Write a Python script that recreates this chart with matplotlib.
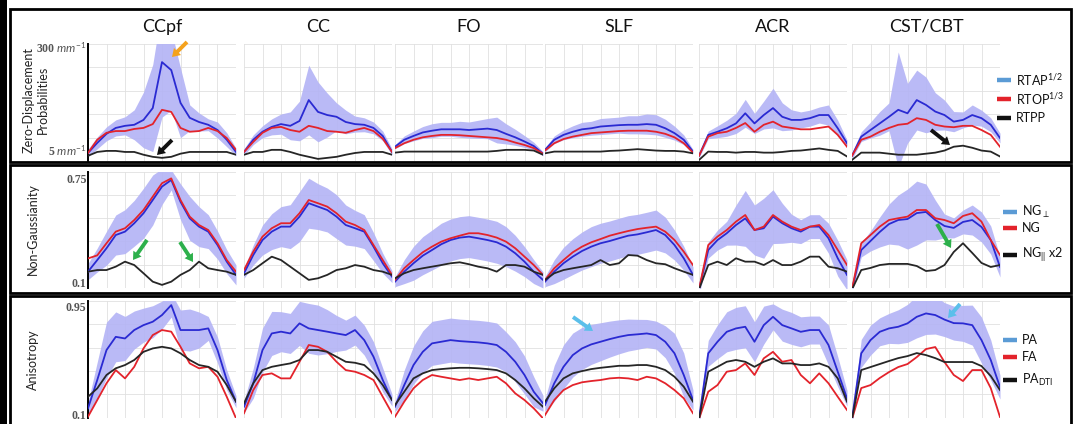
import numpy as np
import matplotlib
matplotlib.use("Agg")
import matplotlib.pyplot as plt
from matplotlib.patches import Rectangle, FancyArrowPatch
from matplotlib.lines import Line2D

plt.rcParams['font.family'] = ['Lato', 'DejaVu Sans']
plt.rcParams['mathtext.fontset'] = 'custom'
plt.rcParams['mathtext.rm'] = 'Lato'
plt.rcParams['mathtext.it'] = 'Lato:italic'

tracts = ["CCpf", "CC", "FO", "SLF", "ACR", "CST/CBT"]
pos = np.linspace(0, 1, 17)   # position along the tract

# --- zero-displacement probabilities (mm^-1) ---
zdp_rtap = [
    [-4, 25, 51, 68, 74, 77, 91, 125, 257, 234, 140, 97, 85, 77, 62, 34, -1],
    [-1, 34, 57, 71, 79, 74, 88, 148, 114, 105, 100, 85, 79, 77, 68, 45, -1],
    [14, 34, 45, 55, 60, 64, 64, 64, 62, 64, 66, 62, 51, 41, 29, 16, -6],
    [5, 34, 48, 57, 64, 67, 72, 74, 76, 77, 77, 79, 77, 67, 53, 34, 0],
    [-12, 48, 57, 67, 81, 110, 81, 105, 125, 100, 91, 91, 96, 105, 105, 67, 24],
    [-12, 43, 62, 81, 100, 120, 110, 148, 134, 115, 105, 86, 91, 105, 96, 77, 39],
]
zdp_rtop = [
    [-4, 34, 54, 59, 59, 65, 68, 79, 120, 114, 68, 57, 59, 68, 59, 39, 5],
    [-1, 28, 54, 68, 71, 62, 57, 74, 68, 59, 57, 54, 62, 68, 59, 37, -1],
    [10, 24, 34, 41, 45, 48, 48, 47, 45, 43, 41, 39, 34, 26, 19, 10, -6],
    [3, 24, 36, 43, 48, 53, 55, 57, 59, 60, 60, 60, 57, 51, 41, 24, -3],
    [-12, 43, 53, 57, 68, 82, 57, 77, 86, 72, 68, 64, 64, 68, 72, 48, 14],
    [-12, 34, 43, 57, 68, 77, 80, 96, 91, 77, 72, 70, 74, 74, 62, 48, 14],
]
zdp_rtpp = [
    [-12, -1, 2, 2, -1, -1, -9, -15, -18, -15, -6, -1, -1, -1, -1, -1, -9],
    [-9, -1, -1, 5, 5, -1, -9, -15, -21, -18, -15, -9, -4, -1, -1, -1, -9],
    [-3, 0, 0, 0, 0, 0, 0, 0, 0, 0, 0, 2, 5, 5, 5, 3, -9],
    [-5, 0, 0, 0, 0, 0, 0, 2, 3, 5, 7, 5, 3, 2, 2, 0, -5],
    [-24, 0, -1, -1, -3, -1, -1, -3, -3, -1, 2, 3, 6, 9, 5, 2, -14],
    [-24, -3, -3, -3, -6, -9, -9, -9, -6, -3, 3, 14, 17, 11, 3, 0, -14],
]
zdp_err = [
    [11, 17, 20, 23, 26, 43, 80, 125, 158, 115, 100, 37, 26, 17, 23, 20, 11],
    [9, 14, 17, 23, 29, 40, 57, 100, 86, 63, 40, 34, 23, 20, 17, 14, 9],
    [6, 11, 14, 17, 20, 20, 20, 23, 23, 26, 29, 37, 29, 23, 17, 11, 6],
    [6, 11, 14, 17, 20, 20, 23, 23, 23, 26, 26, 29, 29, 26, 20, 14, 6],
    [6, 11, 17, 23, 29, 40, 29, 40, 57, 40, 29, 23, 23, 23, 29, 23, 9],
    [9, 14, 23, 34, 40, 166, 86, 86, 80, 54, 43, 29, 23, 29, 23, 20, 14],
]

# --- non-gaussianity ---
ng_perp = [
    [0.170, 0.242, 0.315, 0.397, 0.418, 0.470, 0.532, 0.614, 0.697, 0.738, 0.603, 0.500, 0.449, 0.418, 0.335, 0.232, 0.150],
    [0.160, 0.273, 0.366, 0.418, 0.449, 0.449, 0.511, 0.594, 0.573, 0.552, 0.511, 0.459, 0.439, 0.418, 0.325, 0.222, 0.139],
    [0.108, 0.170, 0.222, 0.269, 0.304, 0.340, 0.366, 0.381, 0.387, 0.377, 0.366, 0.352, 0.325, 0.284, 0.232, 0.170, 0.119],
    [0.108, 0.170, 0.222, 0.263, 0.298, 0.325, 0.346, 0.360, 0.377, 0.393, 0.401, 0.414, 0.428, 0.397, 0.335, 0.253, 0.150],
    [0.06, 0.304, 0.366, 0.408, 0.459, 0.500, 0.428, 0.439, 0.511, 0.470, 0.439, 0.418, 0.449, 0.449, 0.377, 0.253, 0.150],
    [0.06, 0.304, 0.360, 0.416, 0.465, 0.490, 0.496, 0.533, 0.540, 0.490, 0.453, 0.441, 0.478, 0.490, 0.447, 0.366, 0.199],
]
ng_all = [
    [0.252, 0.271, 0.346, 0.418, 0.439, 0.490, 0.552, 0.635, 0.718, 0.748, 0.614, 0.511, 0.459, 0.428, 0.346, 0.242, 0.170],
    [0.180, 0.294, 0.387, 0.439, 0.470, 0.470, 0.532, 0.614, 0.594, 0.573, 0.532, 0.480, 0.459, 0.428, 0.335, 0.242, 0.150],
    [0.119, 0.191, 0.242, 0.290, 0.325, 0.356, 0.377, 0.393, 0.408, 0.408, 0.397, 0.381, 0.356, 0.315, 0.263, 0.211, 0.150],
    [0.119, 0.191, 0.242, 0.290, 0.325, 0.352, 0.372, 0.393, 0.408, 0.422, 0.434, 0.442, 0.449, 0.418, 0.366, 0.294, 0.211],
    [0.06, 0.335, 0.387, 0.428, 0.480, 0.521, 0.428, 0.449, 0.521, 0.480, 0.449, 0.428, 0.449, 0.459, 0.397, 0.304, 0.211],
    [0.06, 0.346, 0.397, 0.449, 0.490, 0.501, 0.511, 0.552, 0.552, 0.501, 0.490, 0.470, 0.515, 0.532, 0.480, 0.366, 0.273],
]
ng_par = [
    [0.170, 0.180, 0.180, 0.201, 0.232, 0.211, 0.160, 0.108, 0.088, 0.108, 0.150, 0.180, 0.232, 0.191, 0.180, 0.170, 0.150],
    [0.150, 0.180, 0.222, 0.263, 0.242, 0.201, 0.160, 0.119, 0.129, 0.150, 0.180, 0.191, 0.211, 0.201, 0.180, 0.170, 0.150],
    [0.129, 0.160, 0.180, 0.191, 0.201, 0.211, 0.222, 0.228, 0.216, 0.201, 0.191, 0.170, 0.211, 0.211, 0.201, 0.170, 0.150],
    [0.119, 0.160, 0.180, 0.191, 0.201, 0.211, 0.242, 0.211, 0.222, 0.273, 0.269, 0.242, 0.222, 0.216, 0.191, 0.170, 0.150],
    [0.06, 0.211, 0.232, 0.211, 0.253, 0.232, 0.232, 0.211, 0.242, 0.211, 0.211, 0.232, 0.263, 0.263, 0.201, 0.191, 0.170],
    [0.06, 0.180, 0.193, 0.211, 0.218, 0.218, 0.218, 0.205, 0.174, 0.180, 0.211, 0.292, 0.346, 0.286, 0.224, 0.199, 0.211],
]
ng_err = [
    [0.050, 0.074, 0.105, 0.124, 0.136, 0.142, 0.155, 0.155, 0.111, 0.062, 0.111, 0.136, 0.124, 0.105, 0.087, 0.074, 0.062],
    [0.031, 0.062, 0.093, 0.111, 0.124, 0.136, 0.155, 0.155, 0.142, 0.136, 0.136, 0.124, 0.111, 0.105, 0.087, 0.062, 0.037],
    [0.031, 0.074, 0.105, 0.118, 0.124, 0.130, 0.130, 0.130, 0.130, 0.130, 0.130, 0.130, 0.124, 0.111, 0.093, 0.074, 0.050],
    [0.031, 0.074, 0.099, 0.111, 0.118, 0.124, 0.124, 0.124, 0.124, 0.124, 0.124, 0.124, 0.124, 0.111, 0.093, 0.074, 0.050],
    [0.031, 0.050, 0.062, 0.074, 0.124, 0.173, 0.155, 0.186, 0.167, 0.124, 0.087, 0.074, 0.074, 0.074, 0.093, 0.111, 0.093],
    [0.019, 0.043, 0.062, 0.093, 0.124, 0.155, 0.186, 0.198, 0.173, 0.124, 0.074, 0.062, 0.074, 0.093, 0.093, 0.087, 0.062],
]

# --- anisotropy ---
pa = [
    [0.145, 0.370, 0.608, 0.713, 0.700, 0.767, 0.806, 0.833, 0.886, 0.965, 0.767, 0.767, 0.767, 0.780, 0.608, 0.370, 0.198],
    [0.158, 0.344, 0.608, 0.740, 0.754, 0.740, 0.820, 0.780, 0.767, 0.754, 0.740, 0.727, 0.767, 0.687, 0.555, 0.370, 0.211],
    [0.158, 0.330, 0.489, 0.594, 0.661, 0.674, 0.687, 0.679, 0.674, 0.669, 0.661, 0.648, 0.594, 0.515, 0.410, 0.277, 0.185],
    [0.171, 0.344, 0.475, 0.568, 0.621, 0.653, 0.674, 0.695, 0.713, 0.727, 0.733, 0.740, 0.727, 0.674, 0.582, 0.410, 0.211],
    [0.06, 0.582, 0.674, 0.753, 0.780, 0.793, 0.674, 0.806, 0.872, 0.806, 0.780, 0.753, 0.767, 0.767, 0.648, 0.436, 0.225],
    [0.06, 0.582, 0.687, 0.753, 0.780, 0.793, 0.820, 0.872, 0.899, 0.886, 0.850, 0.822, 0.820, 0.806, 0.687, 0.529, 0.314],
]
fa = [
    [0.079, 0.211, 0.344, 0.449, 0.383, 0.475, 0.621, 0.727, 0.767, 0.754, 0.634, 0.502, 0.463, 0.475, 0.396, 0.237, 0.066],
    [0.106, 0.290, 0.410, 0.423, 0.383, 0.383, 0.515, 0.648, 0.634, 0.594, 0.515, 0.449, 0.436, 0.410, 0.370, 0.237, 0.106],
    [0.079, 0.198, 0.304, 0.370, 0.410, 0.396, 0.383, 0.370, 0.383, 0.370, 0.383, 0.396, 0.344, 0.264, 0.211, 0.145, 0.066],
    [0.092, 0.211, 0.290, 0.330, 0.352, 0.362, 0.370, 0.383, 0.388, 0.383, 0.370, 0.396, 0.383, 0.344, 0.290, 0.225, 0.106],
    [0.06, 0.277, 0.330, 0.436, 0.449, 0.502, 0.410, 0.542, 0.594, 0.515, 0.529, 0.410, 0.344, 0.423, 0.344, 0.237, 0.132],
    [0.06, 0.306, 0.330, 0.386, 0.433, 0.473, 0.497, 0.552, 0.616, 0.632, 0.513, 0.410, 0.362, 0.449, 0.449, 0.306, 0.076],
]
pa_dti = [
    [0.237, 0.304, 0.410, 0.463, 0.489, 0.529, 0.594, 0.621, 0.634, 0.621, 0.582, 0.529, 0.489, 0.475, 0.436, 0.330, 0.198],
    [0.185, 0.344, 0.449, 0.475, 0.489, 0.502, 0.529, 0.608, 0.608, 0.594, 0.555, 0.515, 0.507, 0.489, 0.423, 0.330, 0.211],
    [0.171, 0.277, 0.383, 0.423, 0.449, 0.457, 0.463, 0.467, 0.467, 0.463, 0.457, 0.449, 0.423, 0.370, 0.304, 0.225, 0.158],
    [0.198, 0.304, 0.383, 0.423, 0.441, 0.457, 0.467, 0.475, 0.483, 0.483, 0.489, 0.489, 0.475, 0.449, 0.396, 0.317, 0.198],
    [0.06, 0.436, 0.475, 0.515, 0.529, 0.515, 0.475, 0.515, 0.542, 0.502, 0.502, 0.489, 0.489, 0.502, 0.475, 0.383, 0.198],
    [0.06, 0.449, 0.473, 0.497, 0.521, 0.544, 0.560, 0.584, 0.568, 0.544, 0.513, 0.513, 0.513, 0.513, 0.481, 0.402, 0.290],
]
pa_err = [
    [0.048, 0.143, 0.222, 0.198, 0.175, 0.151, 0.135, 0.127, 0.111, 0.095, 0.159, 0.167, 0.143, 0.095, 0.103, 0.079, 0.048],
    [0.048, 0.119, 0.175, 0.175, 0.159, 0.159, 0.175, 0.198, 0.198, 0.175, 0.143, 0.119, 0.119, 0.119, 0.119, 0.095, 0.048],
    [0.040, 0.119, 0.151, 0.167, 0.175, 0.175, 0.175, 0.175, 0.175, 0.175, 0.175, 0.175, 0.159, 0.159, 0.151, 0.119, 0.063],
    [0.048, 0.143, 0.175, 0.175, 0.167, 0.159, 0.151, 0.143, 0.135, 0.127, 0.119, 0.111, 0.111, 0.127, 0.159, 0.175, 0.079],
    [0.04, 0.103, 0.135, 0.159, 0.167, 0.167, 0.159, 0.151, 0.103, 0.127, 0.127, 0.119, 0.111, 0.111, 0.159, 0.119, 0.063],
    [0.04, 0.111, 0.119, 0.111, 0.119, 0.135, 0.151, 0.167, 0.167, 0.151, 0.135, 0.135, 0.143, 0.159, 0.183, 0.159, 0.095],
]

legend_labels = [
    ["RTAP$^{1/2}$", "RTOP$^{1/3}$", "RTPP"],
    ["NG$_{\\perp}$", "NG", "NG$_{||}$ x2"],
    ["PA", "FA", "PA$_{\\mathrm{DTI}}$"],
]

W, H = 1076, 424
fig = plt.figure(figsize=(W / 100, H / 100), dpi=100)
fig.patch.set_facecolor("white")


def fx(x):
    return x / W


def fy(y):
    return 1 - y / H


def box(x0, y0, x1, y1):
    return [fx(x0), fy(y1), (x1 - x0) / W, (y1 - y0) / H]


BLUE, RED, BLACK = "#2a2ad2", "#e3232b", "#262626"
BAND = "#b3b3f5"
col_left = [88, 244, 395, 545, 699, 852]
col_w = 148

rows = [
    dict(top=44, bot=161, ylim=(-27, 309), ticks=[5, 300],
         tl=["5 $mm^{-1}$", "300 $mm^{-1}$"],
         data=(zdp_rtap, zdp_rtop, zdp_rtpp, zdp_err),
         ylabel=[("Zero-Displacement", 29), ("Probabilities", 43)], yc=100,
         leg_y=[80, 99, 118], leg_x=997),
    dict(top=171.6, bot=287.8, ylim=(0.07, 0.79), ticks=[0.1, 0.75],
         tl=["0.1", "0.75"],
         data=(ng_perp, ng_all, ng_par, ng_err),
         ylabel=[("Non-Gaussianity", 33)], yc=229,
         leg_y=[212, 228, 255], leg_x=1003),
    dict(top=300.7, bot=417.8, ylim=(0.07, 1.0), ticks=[0.1, 0.95],
         tl=["0.1", "0.95"],
         data=(pa, fa, pa_dti, pa_err),
         ylabel=[("Anisotropy", 33)], yc=360,
         leg_y=[340, 357, 380], leg_x=1003),
]

for r, row in enumerate(rows):
    blue, red, black, err = row["data"]
    y0, y1 = row["ylim"]
    for c in range(6):
        ax = fig.add_axes(box(col_left[c], row["top"], col_left[c] + col_w, row["bot"]))
        b = np.array(blue[c])
        e = np.array(err[c])
        ax.fill_between(pos, b - e, b + e, color=BAND, lw=0, alpha=0.9, zorder=2)
        ax.plot(pos, b, color=BLUE, lw=1.3, zorder=3)
        ax.plot(pos, red[c], color=RED, lw=1.3, zorder=4)
        ax.plot(pos, black[c], color=BLACK, lw=1.3, zorder=5)
        ax.set_xlim(0, 1)
        ax.set_ylim(y0, y1)
        ax.set_xticks(np.linspace(0, 1, 9))
        ax.set_xticklabels([])
        ax.set_yticks(np.linspace(y0, y1, 6), minor=True)
        ax.grid(axis="x", which="major", color="#e0e0e0", lw=0.6, zorder=0)
        ax.grid(axis="y", which="minor", color="#e0e0e0", lw=0.6, zorder=0)
        ax.tick_params(which="both", length=0)
        for s in ["top", "right", "bottom"]:
            ax.spines[s].set_visible(False)
        if c == 0:
            ax.spines["left"].set_color("black")
            ax.spines["left"].set_linewidth(1.4)
            ax.set_yticks(row["ticks"])
            ax.set_yticklabels(row["tl"], fontfamily="Liberation Serif",
                               fontweight="bold", fontsize=8.5, color="#555555")
            ax.tick_params(axis="y", pad=1)
        else:
            ax.spines["left"].set_visible(False)
            ax.set_yticks([])
        if r == 0:
            fig.text(fx(col_left[c] + col_w / 2), fy(27), tracts[c],
                     ha="center", va="center", fontsize=13, color="#111111")

    for txt, xp in row["ylabel"]:
        fig.text(fx(xp), fy(row["yc"]), txt, rotation=90, ha="center",
                 va="center", fontsize=9, color="#222222")

    for lab, ly, col in zip(legend_labels[r], row["leg_y"], ["#5b9bd5", "#e3232b", "#111111"]):
        fig.add_artist(Line2D([fx(row["leg_x"]), fx(row["leg_x"] + 14)], [fy(ly), fy(ly)],
                              transform=fig.transFigure, color=col, lw=3.2,
                              solid_capstyle="butt"))
        fig.text(fx(row["leg_x"] + 19), fy(ly), lab, ha="left", va="center",
                 fontsize=9, color="#111111")

# row frames and left black strip
for (t, b) in [(9, 162), (165, 293), (296, 432)]:
    fig.add_artist(Rectangle((fx(10), fy(b)), (1071 - 10) / W, (b - t) / H,
                             transform=fig.transFigure, fill=False,
                             edgecolor="black", lw=2.0))
fig.add_artist(Rectangle((0, 0), fx(7), 1, transform=fig.transFigure,
                         facecolor="black", edgecolor="none"))

# highlight arrows (tail -> head, pixel positions)
arrows = [
    ((187, 42), (172, 57), "#f5a21c"),
    ((172, 140), (157, 155), "#111111"),
    ((931, 130), (950, 145), "#111111"),
    ((147, 240), (133, 260), "#2db04b"),
    ((180, 242), (193, 262), "#2db04b"),
    ((937, 224), (951, 248), "#2db04b"),
    ((573, 317), (593, 331), "#5bbfea"),
    ((960, 304), (948, 318), "#5bbfea"),
]
for (xa, ya), (xb, yb), col in arrows:
    fig.add_artist(FancyArrowPatch((fx(xa), fy(ya)), (fx(xb), fy(yb)),
                                   transform=fig.transFigure,
                                   arrowstyle="simple,head_length=0.7,head_width=0.9,tail_width=0.35",
                                   mutation_scale=8, color=col, lw=0,
                                   shrinkA=0, shrinkB=0, zorder=10))

fig.savefig("out.png", dpi=100)
